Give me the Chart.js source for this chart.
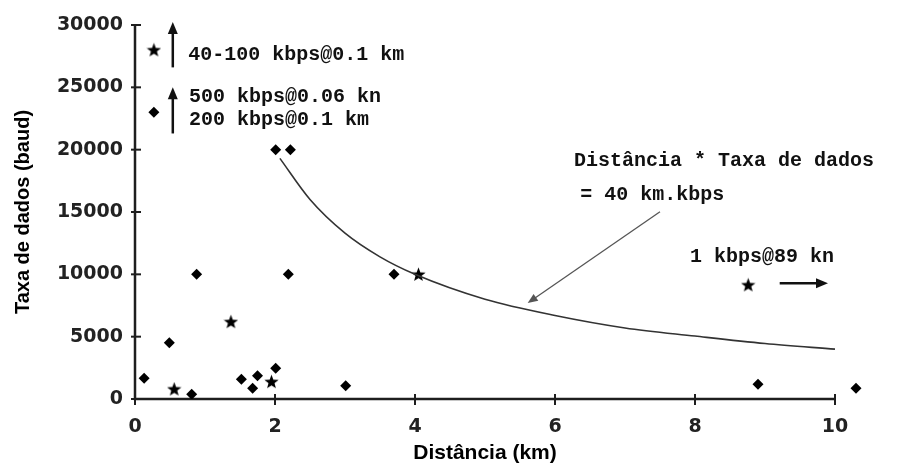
<!DOCTYPE html>
<html>
<head>
<meta charset="utf-8">
<script src="https://cdn.jsdelivr.net/npm/chart.js@4/dist/chart.umd.min.js"></script>
<style>
  html, body { margin: 0; padding: 0; background: #fff; }
  canvas { display: block; }
</style>
</head>
<body>
<canvas id="chart" width="920" height="466"></canvas>
<script>
// values
const diamondX = [0.13, 0.49, 0.81, 1.52, 1.68, 1.75, 2.01, 3.01, 8.9, 10.3, 0.27, 2.01, 2.22, 0.88, 2.19, 3.7];
const diamondY = [1660, 4520, 380, 1580, 860, 1870, 2460, 1070, 1180, 860, 23000, 20000, 20000, 10000, 10000, 10000];

const starX = [0.27, 0.56, 1.37, 1.95, 4.05, 8.76];
const starY = [28000, 800, 6200, 1390, 10000, 9150];

// the "40 km.kbps" curve
const curveX = [2.07, 2.5, 3, 3.5, 4, 5, 6, 7, 8, 9, 10];
const curveY = [19300, 16000, 13300, 11400, 10000, 8000, 6700, 5700, 5050, 4450, 4000];

const xTicks = [0, 2, 4, 6, 8, 10];
const yTicks = [0, 5000, 10000, 15000, 20000, 25000, 30000];

const toPoints = (xs, ys) => xs.map((x, i) => ({ x: x, y: ys[i] }));

// filled five point star used as marker
function makeStar(size) {
  const c = document.createElement("canvas");
  c.width = size;
  c.height = size;
  const g = c.getContext("2d");
  const cx = size / 2, cy = size / 2 + 0.5;
  const outer = size / 2, inner = outer * 0.42;
  g.beginPath();
  for (let i = 0; i < 10; i++) {
    const r = i % 2 === 0 ? outer : inner;
    const a = -Math.PI / 2 + (i * Math.PI) / 5;
    const px = cx + r * Math.cos(a);
    const py = cy + r * Math.sin(a);
    if (i === 0) g.moveTo(px, py);
    else g.lineTo(px, py);
  }
  g.closePath();
  g.fillStyle = "#000";
  g.fill();
  return c;
}
const starImg = makeStar(15);

const monoFont = 'bold 20px "Liberation Mono", "DejaVu Sans Mono", monospace';

// axis lines with ticks crossing them, annotations and arrows
const decorations = {
  id: "decorations",
  beforeDatasetsDraw(chart) {
    const { ctx } = chart;
    const xs = chart.scales.x;
    const ys = chart.scales.y;
    const x0 = xs.getPixelForValue(0);
    const x10 = xs.getPixelForValue(10);
    const y0 = ys.getPixelForValue(0);
    ctx.save();
    ctx.strokeStyle = "#1e1e1e";
    ctx.lineWidth = 2.5;
    ctx.beginPath();
    ctx.moveTo(x0, ys.getPixelForValue(30000));
    ctx.lineTo(x0, y0);
    ctx.lineTo(x10, y0);
    ctx.stroke();
    ctx.lineWidth = 2;
    yTicks.forEach((v) => {
      const py = ys.getPixelForValue(v);
      ctx.beginPath();
      ctx.moveTo(x0 - 4, py);
      ctx.lineTo(x0 + 6, py);
      ctx.stroke();
    });
    xTicks.forEach((v) => {
      const px = xs.getPixelForValue(v);
      ctx.beginPath();
      ctx.moveTo(px, y0 - 5);
      ctx.lineTo(px, y0 + 6);
      ctx.stroke();
    });
    // x axis title, centred under the drawn axis (0..10)
    ctx.font = 'bold 21px "Liberation Sans", Arial, sans-serif';
    ctx.fillStyle = "#000";
    ctx.textAlign = "center";
    ctx.textBaseline = "middle";
    ctx.fillText("Distância (km)", (x0 + x10) / 2, 453);
    ctx.restore();
  },
  afterDatasetsDraw(chart) {
    const { ctx } = chart;
    const xs = chart.scales.x;
    const ys = chart.scales.y;
    const P = (x, y) => [xs.getPixelForValue(x), ys.getPixelForValue(y)];

    function arrow(from, to, width, head, color) {
      const [x1, y1] = P(from[0], from[1]);
      const [x2, y2] = P(to[0], to[1]);
      const ang = Math.atan2(y2 - y1, x2 - x1);
      ctx.save();
      ctx.strokeStyle = color;
      ctx.fillStyle = color;
      ctx.lineWidth = width;
      ctx.beginPath();
      ctx.moveTo(x1, y1);
      ctx.lineTo(x2 - Math.cos(ang) * head * 0.8, y2 - Math.sin(ang) * head * 0.8);
      ctx.stroke();
      ctx.beginPath();
      ctx.moveTo(x2, y2);
      ctx.lineTo(x2 - head * Math.cos(ang) + (head / 2.4) * Math.sin(ang),
                 y2 - head * Math.sin(ang) - (head / 2.4) * Math.cos(ang));
      ctx.lineTo(x2 - head * Math.cos(ang) - (head / 2.4) * Math.sin(ang),
                 y2 - head * Math.sin(ang) + (head / 2.4) * Math.cos(ang));
      ctx.closePath();
      ctx.fill();
      ctx.restore();
    }

    arrow([0.54, 26600], [0.54, 30250], 2.5, 12, "#111");
    arrow([0.54, 21300], [0.54, 25000], 2.5, 12, "#111");
    arrow([9.21, 9280], [9.9, 9280], 2.5, 12, "#111");
    arrow([7.5, 15020], [5.61, 7700], 1.3, 10, "#555");

    ctx.save();
    ctx.font = monoFont;
    ctx.fillStyle = "#111";
    ctx.textAlign = "left";
    ctx.textBaseline = "middle";
    const label = (t, x, y) => {
      const [px, py] = P(x, y);
      ctx.fillText(t, px, py);
    };
    label("40-100 kbps@0.1 km", 0.76, 27600);
    label("500 kbps@0.06 kn", 0.77, 24250);
    label("200 kbps@0.1 km", 0.77, 22380);
    label("Distância * Taxa de dados", 6.27, 19120);
    label("= 40 km.kbps", 6.36, 16360);
    label("1 kbps@89 kn", 7.93, 11370);
    ctx.restore();
  },
};

const tickFont = { family: '"DejaVu Sans", sans-serif', size: 19, weight: "bold" };
const titleFont = { family: '"Liberation Sans", Arial, sans-serif', size: 20, weight: "bold" };

new Chart(document.getElementById("chart"), {
  type: "scatter",
  data: {
    datasets: [
      {
        label: "40 km.kbps",
        type: "line",
        data: toPoints(curveX, curveY),
        borderColor: "#333",
        borderWidth: 1.6,
        pointRadius: 0,
        cubicInterpolationMode: "monotone",
        fill: false,
      },
      {
        label: "diamonds",
        data: toPoints(diamondX, diamondY),
        pointStyle: "rectRot",
        pointRadius: 5.5,
        backgroundColor: "#000",
        borderColor: "#000",
        borderWidth: 0,
      },
      {
        label: "stars",
        data: toPoints(starX, starY),
        pointStyle: starImg,
      },
    ],
  },
  options: {
    responsive: false,
    animation: false,
    layout: { padding: { top: 25, right: 50, left: 0, bottom: 0 } },
    plugins: { legend: { display: false }, tooltip: { enabled: false } },
    scales: {
      x: {
        type: "linear",
        min: 0,
        max: 10.5,
        afterFit: (s) => { s.height = 67; },
        afterBuildTicks: (s) => { s.ticks = xTicks.map((v) => ({ value: v })); },
        grid: { display: false, drawTicks: false },
        border: { display: false },
        ticks: { font: tickFont, color: "#222", padding: 17 },
      },
      y: {
        type: "linear",
        min: 0,
        max: 30000,
        afterFit: (s) => { s.width = 135; },
        afterBuildTicks: (s) => { s.ticks = yTicks.map((v) => ({ value: v })); },
        grid: { display: false, drawTicks: false },
        border: { display: false },
        ticks: { font: tickFont, color: "#222", padding: 12, callback: (v) => String(v) },
        title: { display: true, text: "Taxa de dados (baud)", font: titleFont, color: "#000", padding: { top: 11, bottom: 0 } },
      },
    },
  },
  plugins: [decorations],
});
</script>
</body>
</html>
